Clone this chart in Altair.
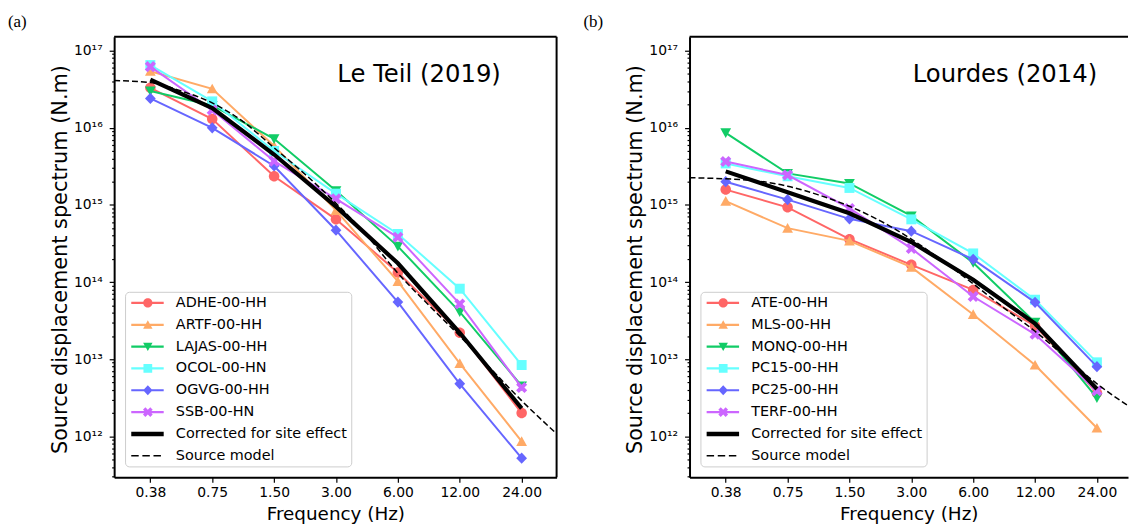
import json
import math
import altair as alt
import pandas as pd

# ---------------- data ----------------
freqs = [0.375, 0.75, 1.5, 3.0, 6.0, 12.0, 24.0]

# Le Teil (2019)
lt_stations = ["ADHE-00-HH", "ARTF-00-HH", "LAJAS-00-HH", "OCOL-00-HN", "OGVG-00-HH", "SSB-00-HN"]
lt_adhe = [3.3e16, 1.3e16, 2.35e15, 6.5e14, 1.33e14, 2.2e13, 2.0e12]
lt_artf = [5.4e16, 3.2e16, 5.8e15, 8.5e14, 1.02e14, 8.8e12, 8.6e11]
lt_lajas = [3.0e16, 1.95e16, 7.2e15, 1.53e15, 2.9e14, 4.1e13, 4.5e12]
lt_ocol = [6.5e16, 2.2e16, 5.0e15, 1.4e15, 4.2e14, 8.2e13, 8.4e12]
lt_ogvg = [2.4e16, 1.0e16, 3.2e15, 4.7e14, 5.5e13, 4.8e12, 5.2e11]
lt_ssb = [6.2e16, 1.7e16, 3.7e15, 1.2e15, 3.8e14, 5.2e13, 4.3e12]
lt_corrected = [4.2e16, 1.8e16, 4.5e15, 9.5e14, 1.75e14, 2.2e13, 2.3e12]
lt_model_f = [0.25, 0.375, 0.53, 0.75, 1.06, 1.5, 2.12, 3.0, 4.24, 6.0, 8.49, 12.0, 17.0, 24.0, 35.5]
lt_model_v = [4.1e16, 3.85e16, 3.0e16, 2.1e16, 1.2e16, 5.5e15, 2.5e15, 1.05e15, 4.0e14,
              1.3e14, 5.0e13, 2.0e13, 7.5e12, 2.9e12, 1.08e12]

# Lourdes (2014)
lo_stations = ["ATE-00-HH", "MLS-00-HH", "MONQ-00-HH", "PC15-00-HH", "PC25-00-HH", "TERF-00-HH"]
lo_ate = [1.58e15, 9.3e14, 3.6e14, 1.67e14, 7.9e13, 2.7e13, 3.65e12]
lo_mls = [1.12e15, 5.0e14, 3.42e14, 1.56e14, 3.8e13, 8.4e12, 1.28e12]
lo_monq = [8.6e15, 2.56e15, 1.9e15, 7.2e14, 1.78e14, 3.0e13, 3.15e12]
lo_pc15 = [3.45e15, 2.35e15, 1.66e15, 6.5e14, 2.35e14, 5.9e13, 9.1e12]
lo_pc25 = [2.0e15, 1.17e15, 6.6e14, 4.56e14, 1.97e14, 5.46e13, 8.0e12]
lo_terf = [3.66e15, 2.44e15, 9.0e14, 2.73e14, 6.5e13, 2.1e13, 3.9e12]
lo_corrected = [2.72e15, 1.46e15, 7.8e14, 3.3e14, 1.07e14, 2.9e13, 4.1e12]
lo_model_f = [0.25, 0.375, 0.53, 0.75, 1.06, 1.5, 2.12, 3.0, 4.24, 6.0, 8.49, 12.0, 17.0, 24.0, 34.0]
lo_model_v = [2.25e15, 2.18e15, 2.05e15, 1.75e15, 1.35e15, 9.6e14, 6.2e14, 3.6e14, 1.9e14,
              9.5e13, 4.6e13, 2.3e13, 1.05e13, 4.8e12, 2.5e12]

x_tick_values = freqs
y_tick_labels = ["10¹²", "10¹³", "10¹⁴", "10¹⁵", "10¹⁶", "10¹⁷"]
extra_labels = ["Corrected for site effect", "Source model"]
panel_tags = ["(a)", "(b)"]
panel_titles = ["Le Teil (2019)", "Lourdes (2014)"]
x_title = "Frequency (Hz)"
y_title = "Source displacement spectrum (N.m)"

# ---------------- styles ----------------
station_colors = ["#ff6666", "#ffaa66", "#11cc66", "#66ffff", "#6666ff", "#cc66ff"]
FONT = "DejaVu Sans"
H = 444
W_L, W_R = 446, 442
y_dom = [2.94e11, 1.51e17]
x_dom_L = [0.25, 35.5]
x_dom_R = [0.25, 34.0]


def fmt(v):
    return ("%.3f" % v).rstrip("0").rstrip(".")


def poly(pts):
    return "M" + "L".join(f"{fmt(x)},{fmt(y)}" for x, y in pts) + "Z"


def marker(kind, cx=0.0):
    if kind == "circle":
        r = 0.93
        return f"M{fmt(cx - r)},0A{r},{r} 0 1,1 {fmt(cx + r)},0A{r},{r} 0 1,1 {fmt(cx - r)},0Z"
    if kind == "up":
        return poly([(cx, -0.9), (cx + 0.95, 0.8), (cx - 0.95, 0.8)])
    if kind == "down":
        return poly([(cx - 0.95, -0.8), (cx + 0.95, -0.8), (cx, 0.9)])
    if kind == "square":
        s = 0.88
        return poly([(cx - s, -s), (cx + s, -s), (cx + s, s), (cx - s, s)])
    if kind == "diamond":
        return poly([(cx, -1.0), (cx + 0.95, 0), (cx, 1.0), (cx - 0.95, 0)])
    if kind == "x":
        t, r = 0.33, 0.98
        base = [(-t, -1), (t, -1), (t, -t), (1, -t), (1, t), (t, t), (t, 1), (-t, 1),
                (-t, t), (-1, t), (-1, -t), (-t, -t)]
        k = r * math.sqrt(2) / (1 + t)
        c = 1 / math.sqrt(2)
        return poly([(cx + (x - y) * c * k, (x + y) * c * k) for x, y in base])
    raise ValueError(kind)


kinds = ["circle", "up", "down", "square", "diamond", "x"]
LX0, LX1, MCX = -1.0, 5.54, 2.34


def rect(x0, x1, h):
    return poly([(x0, -h), (x1, -h), (x1, h), (x0, h)])


legend_paths = [rect(LX0, LX1, 0.22) + marker(k, MCX) for k in kinds]
legend_paths.append(rect(LX0, LX1, 0.45))
legend_paths.append(rect(-1.0, 0.5, 0.15) + rect(1.24, 2.74, 0.15) + rect(3.48, 4.98, 0.15))
legend_colors = station_colors + ["black", "black"]

y_major = [10.0 ** e for e in range(12, 18)]
y_minor = [k * 10.0 ** e for e in range(11, 17) for k in range(2, 10)
           if y_dom[0] <= k * 10.0 ** e <= y_dom[1]]
y_values = sorted(y_major + y_minor)
LOG = "log(datum.value)/LN10"
is_major = f"abs({LOG} - round({LOG})) < 0.001"
label_expr = (f"{is_major} ? {json.dumps(y_tick_labels, ensure_ascii=False)}"
              f"[round({LOG}) - 12] : ''")


def panel(tag, title, stations, series, corrected, mf, mv, width, xdom, right_border):
    xs = alt.Scale(type="log", base=2, domain=xdom, nice=False)
    ys = alt.Scale(type="log", domain=y_dom, nice=False)
    xaxis = alt.Axis(values=x_tick_values, format=".2f", title=x_title, tickSize=5,
                     labelPadding=3, labelFontSize=14, titleFontSize=18.5, titlePadding=6,
                     labelFlush=False)
    yaxis = alt.Axis(values=y_values, labelExpr=label_expr, title=y_title,
                     tickSize={"condition": {"test": is_major, "value": 5}, "value": 2.5},
                     labelPadding=7, labelFontSize=14, labelOverlap=False, labelFlush=False,
                     titleFontSize=21, titleX=-54, titleY=H / 2 + 2, titleBaseline="middle",
                     titleAlign="center", titleAngle=-90)
    X = alt.X("f:Q", scale=xs, axis=xaxis)
    Y = alt.Y("v:Q", scale=ys, axis=yaxis)
    layers = []
    for i, vals in enumerate(series):
        base = alt.Chart(pd.DataFrame({"f": freqs, "v": vals}))
        layers.append(base.mark_line(color=station_colors[i], strokeWidth=2).encode(x=X, y=Y))
        layers.append(base.mark_point(shape=marker(kinds[i]), filled=True, size=130, opacity=1,
                                      color=station_colors[i], strokeWidth=0).encode(x=X, y=Y))
    layers.append(alt.Chart(pd.DataFrame({"f": freqs, "v": corrected}))
                  .mark_line(color="black", strokeWidth=4.2).encode(x=X, y=Y))
    layers.append(alt.Chart(pd.DataFrame({"f": mf, "v": mv}))
                  .mark_line(color="black", strokeWidth=1.5, strokeDash=[6, 3], clip=True,
                             interpolate="monotone").encode(x=X, y=Y))
    # frame (top, and right for the first panel)
    one = pd.DataFrame({"k": [0]})
    layers.append(alt.Chart(one).mark_rule(color="black", strokeWidth=2)
                  .encode(x=alt.value(0), x2=alt.value(width), y=alt.value(0)))
    if right_border:
        layers.append(alt.Chart(one).mark_rule(color="black", strokeWidth=2)
                      .encode(x=alt.value(width), y=alt.value(0), y2=alt.value(H)))
    # annotation texts
    layers.append(alt.Chart(pd.DataFrame({"t": [title]}))
                  .mark_text(align="left", baseline="alphabetic", fontSize=24.5, font=FONT,
                             color="black")
                  .encode(text="t:N", x=alt.value(225), y=alt.value(46)))
    layers.append(alt.Chart(pd.DataFrame({"t": [tag]}))
                  .mark_text(align="left", baseline="alphabetic", fontSize=17,
                             font="Liberation Serif", color="black")
                  .encode(text="t:N", x=alt.value(-107), y=alt.value(-10)))
    # legend
    labels = stations + extra_labels
    leg = alt.Legend(title=None, orient="bottom-left", offset=11, padding=4, rowPadding=7,
                     labelFont=FONT, labelFontSize=14.5, labelColor="black", labelOffset=32.7,
                     symbolSize=100, symbolStrokeWidth=0, strokeColor="#cccccc",
                     fillColor="white", cornerRadius=4, labelLimit=400)
    layers.append(alt.Chart(pd.DataFrame({"s": labels})).transform_filter("false")
                  .mark_point(filled=True, opacity=1, size=100)
                  .encode(color=alt.Color("s:N", scale=alt.Scale(domain=labels, range=legend_colors),
                                          legend=leg),
                          shape=alt.Shape("s:N", scale=alt.Scale(domain=labels, range=legend_paths),
                                          legend=leg)))
    return alt.layer(*layers).properties(width=width, height=H)


left = panel(panel_tags[0], panel_titles[0], lt_stations,
             [lt_adhe, lt_artf, lt_lajas, lt_ocol, lt_ogvg, lt_ssb], lt_corrected,
             lt_model_f, lt_model_v, W_L, x_dom_L, True)
right = panel(panel_tags[1], panel_titles[1], lo_stations,
              [lo_ate, lo_mls, lo_monq, lo_pc15, lo_pc25, lo_terf], lo_corrected,
              lo_model_f, lo_model_v, W_R, x_dom_R, False)

chart = (alt.hconcat(left, right, spacing=26)
         .resolve_scale(color="independent", shape="independent")
         .properties(padding={"left": 0, "top": 3, "right": 0, "bottom": 0})
         .configure_view(stroke=None)
         .configure_axis(domainColor="black", domainWidth=2, tickColor="black", tickWidth=1.2,
                         labelColor="black", titleColor="black", labelFont=FONT, titleFont=FONT,
                         titleFontWeight="normal", grid=False))

chart.save("out.html", embed_options={"renderer": "svg", "actions": False})
